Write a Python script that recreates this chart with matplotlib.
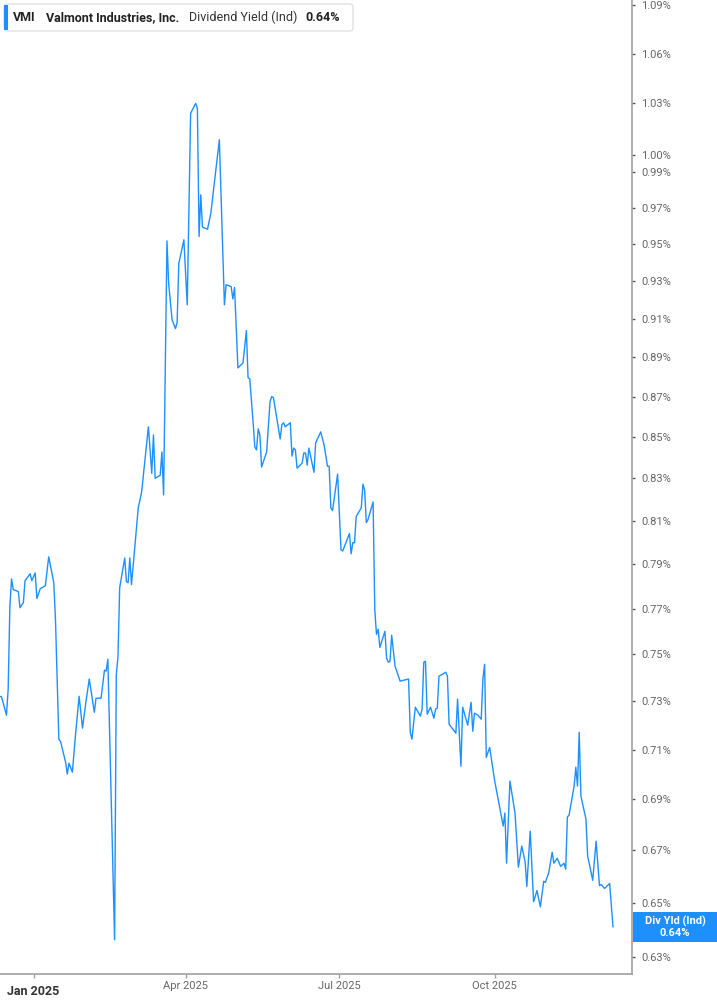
import pandas as pd
import matplotlib.pyplot as plt
import matplotlib.ticker as mticker
from matplotlib.patches import FancyBboxPatch, Rectangle

plt.rcParams['font.family'] = ['Roboto', 'DejaVu Sans']

# dividend yield (ind), percent
dates = [
    '2024-12-12', '2024-12-13', '2024-12-16', '2024-12-17', '2024-12-18', '2024-12-19', '2024-12-20',
    '2024-12-23', '2024-12-24', '2024-12-26', '2024-12-27', '2024-12-30', '2024-12-31',
    '2025-01-02', '2025-01-03', '2025-01-05', '2025-01-08', '2025-01-10', '2025-01-13', '2025-01-14',
    '2025-01-16', '2025-01-17', '2025-01-20', '2025-01-21', '2025-01-22', '2025-01-24', '2025-01-26',
    '2025-01-28', '2025-01-30',
    '2025-02-01', '2025-02-03', '2025-02-06', '2025-02-07', '2025-02-10', '2025-02-12', '2025-02-13',
    '2025-02-14', '2025-02-18', '2025-02-19', '2025-02-20', '2025-02-21', '2025-02-24', '2025-02-25',
    '2025-02-26', '2025-02-27', '2025-02-28',
    '2025-03-04', '2025-03-06', '2025-03-10', '2025-03-12', '2025-03-13', '2025-03-14', '2025-03-17',
    '2025-03-18', '2025-03-19', '2025-03-21', '2025-03-22', '2025-03-24', '2025-03-26', '2025-03-27',
    '2025-03-28', '2025-03-31',
    '2025-04-02', '2025-04-04', '2025-04-07', '2025-04-08', '2025-04-09', '2025-04-10', '2025-04-11',
    '2025-04-14', '2025-04-16', '2025-04-21', '2025-04-24', '2025-04-25', '2025-04-28', '2025-04-29',
    '2025-04-30',
    '2025-05-02', '2025-05-05', '2025-05-07', '2025-05-08', '2025-05-09', '2025-05-11', '2025-05-12',
    '2025-05-13', '2025-05-14', '2025-05-15', '2025-05-16', '2025-05-18', '2025-05-19', '2025-05-21',
    '2025-05-22', '2025-05-23', '2025-05-27', '2025-05-28', '2025-05-29', '2025-05-30',
    '2025-06-02', '2025-06-03', '2025-06-04', '2025-06-05', '2025-06-06', '2025-06-09', '2025-06-10',
    '2025-06-11', '2025-06-12', '2025-06-13', '2025-06-16', '2025-06-17', '2025-06-20', '2025-06-22',
    '2025-06-24', '2025-06-25', '2025-06-26', '2025-06-27', '2025-06-30',
    '2025-07-02', '2025-07-03', '2025-07-07', '2025-07-08', '2025-07-09', '2025-07-10', '2025-07-11',
    '2025-07-14', '2025-07-15', '2025-07-16', '2025-07-17', '2025-07-18', '2025-07-21', '2025-07-22',
    '2025-07-23', '2025-07-24', '2025-07-25', '2025-07-28', '2025-07-29', '2025-07-30', '2025-07-31',
    '2025-08-01', '2025-08-03', '2025-08-06', '2025-08-08', '2025-08-11', '2025-08-12', '2025-08-13',
    '2025-08-15', '2025-08-18', '2025-08-19', '2025-08-20', '2025-08-21', '2025-08-22', '2025-08-24',
    '2025-08-26', '2025-08-27', '2025-08-28', '2025-08-29',
    '2025-09-02', '2025-09-03', '2025-09-04', '2025-09-08', '2025-09-09', '2025-09-11', '2025-09-12',
    '2025-09-15', '2025-09-17', '2025-09-18', '2025-09-19', '2025-09-21', '2025-09-23', '2025-09-24',
    '2025-09-25', '2025-09-26', '2025-09-28',
    '2025-10-01', '2025-10-06', '2025-10-07', '2025-10-08', '2025-10-10', '2025-10-13', '2025-10-15',
    '2025-10-17', '2025-10-19', '2025-10-20', '2025-10-22', '2025-10-24', '2025-10-26', '2025-10-28',
    '2025-10-30', '2025-10-31',
    '2025-11-02', '2025-11-04', '2025-11-05', '2025-11-07', '2025-11-09', '2025-11-11', '2025-11-12',
    '2025-11-13', '2025-11-14', '2025-11-17', '2025-11-18', '2025-11-19', '2025-11-20', '2025-11-21',
    '2025-11-24', '2025-11-25', '2025-11-28', '2025-11-30',
    '2025-12-02', '2025-12-03', '2025-12-05', '2025-12-08', '2025-12-10',
]

yield_pct = [
    0.7320, 0.7320, 0.7242, 0.7351, 0.7709, 0.7833, 0.7785, 0.7776, 0.7704, 0.7727, 0.7825, 0.7856, 0.7825,
    0.7860, 0.7745, 0.7789, 0.7802, 0.7933, 0.7816, 0.7652, 0.7142, 0.7133, 0.7048, 0.7000, 0.7044, 0.7008,
    0.7171, 0.7321, 0.7188,
    0.7296, 0.7394, 0.7254, 0.7313, 0.7313, 0.7432, 0.7428, 0.7479, 0.6363, 0.7411, 0.7491, 0.7793, 0.7928,
    0.7820, 0.7816, 0.7928, 0.7807,
    0.8160, 0.8235, 0.8550, 0.8324, 0.8510, 0.8300, 0.8315, 0.8427, 0.8221, 0.9516, 0.9285, 0.9095, 0.9047,
    0.9079, 0.9392, 0.9522,
    0.9172, 1.0242, 1.0300, 1.0271, 0.9540, 0.9772, 0.9592, 0.9580, 0.9671, 1.0087, 0.9172, 0.9279, 0.9269,
    0.9203, 0.9264,
    0.8845, 0.8870, 0.9037, 0.8795, 0.8790, 0.8570, 0.8451, 0.8437, 0.8540, 0.8510, 0.8354, 0.8402, 0.8427,
    0.8675, 0.8700, 0.8695, 0.8490, 0.8560, 0.8570, 0.8550,
    0.8570, 0.8407, 0.8446, 0.8437, 0.8349, 0.8373, 0.8422, 0.8422, 0.8363, 0.8446, 0.8329, 0.8471, 0.8525,
    0.8461, 0.8358, 0.8358, 0.8160, 0.8147, 0.8320,
    0.7965, 0.7960, 0.8040, 0.7947, 0.7998, 0.7998, 0.8119, 0.8160, 0.8272, 0.8244, 0.8091, 0.8105, 0.8188,
    0.7696, 0.7587, 0.7609, 0.7530, 0.7600, 0.7483, 0.7466, 0.7470,
    0.7583, 0.7449, 0.7385, 0.7389, 0.7394, 0.7171, 0.7142, 0.7275, 0.7238, 0.7267, 0.7466, 0.7470, 0.7246,
    0.7275, 0.7229, 0.7267, 0.7271, 0.7406,
    0.7423, 0.7406, 0.7204, 0.7167, 0.7309, 0.7032, 0.7275, 0.7200, 0.7296, 0.7175, 0.7250, 0.7242, 0.7225,
    0.7394, 0.7457, 0.7068, 0.7108,
    0.6972, 0.6794, 0.6845, 0.6650, 0.6972, 0.6845, 0.6635, 0.6716, 0.6654, 0.6562, 0.6774, 0.6504, 0.6546,
    0.6485, 0.6581, 0.6577,
    0.6615, 0.6692, 0.6650, 0.6669, 0.6638, 0.6650, 0.6627, 0.6829, 0.6837, 0.6952, 0.7028, 0.6952, 0.7171,
    0.6912, 0.6821, 0.6677, 0.6585, 0.6735,
    0.6565, 0.6569, 0.6554, 0.6573, 0.6411,
]

ytick_vals = [0.63, 0.65, 0.67, 0.69, 0.71, 0.73, 0.75, 0.77, 0.79, 0.81, 0.83, 0.85,
              0.87, 0.89, 0.91, 0.93, 0.95, 0.97, 0.99, 1.00, 1.03, 1.06, 1.09]
xtick_dates = ['2025-01-01', '2025-04-01', '2025-07-01', '2025-10-01']
xtick_labels = ['Jan 2025', 'Apr 2025', 'Jul 2025', 'Oct 2025']

ticker_sym = 'VMI'
company = 'Valmont Industries, Inc.'
metric = 'Dividend Yield (Ind)'
short_metric = 'Div Yld (Ind)'

blue = '#1e8fff'
gray_axis = '#a0a0a0'

x = pd.to_datetime(dates)
last = yield_pct[-1]

fig = plt.figure(figsize=(7.17, 10.05), dpi=100)
ax = fig.add_axes([0, 31 / 1005, 632 / 717, 974 / 1005])

ax.plot(x, yield_pct, color=blue, lw=1.0)

ax.set_yscale('log')
ax.set_ylim(0.6239, 1.0932)
ax.set_xlim(pd.Timestamp('2024-12-12 04:00'), pd.Timestamp('2025-12-21 06:00'))

ax.yaxis.tick_right()
ax.yaxis.set_minor_locator(mticker.NullLocator())
ax.set_yticks(ytick_vals)
ax.set_yticklabels([f'{v:.2f}%' for v in ytick_vals])
ax.tick_params(axis='y', which='major', length=2.5, width=1, color='#555555',
               labelcolor='#666666', labelsize=8, pad=4)

ax.set_xticks(pd.to_datetime(xtick_dates))
ax.set_xticklabels([''] + xtick_labels[1:])
ax.tick_params(axis='x', length=3, width=1, color=gray_axis,
               labelcolor='#666666', labelsize=8, pad=2)

# year label is bolder and sits lower
ax.annotate(xtick_labels[0], xy=(pd.Timestamp(xtick_dates[0]), 0),
            xycoords=('data', 'axes fraction'), xytext=(0, -17), textcoords='offset pixels',
            ha='center', va='center', fontsize=9, fontweight='bold', color='#333333')

for side in ['left', 'top']:
    ax.spines[side].set_visible(False)
for side in ['right', 'bottom']:
    ax.spines[side].set_color(gray_axis)
    ax.spines[side].set_linewidth(1.2)

# legend header box
W, H = 717, 1005
box = FancyBboxPatch((4 / W, 1 - 31 / H), 349 / W, 27 / H, boxstyle='round,pad=0,rounding_size=0.004',
                     transform=fig.transFigure, facecolor='white', edgecolor='#e2e2e2', lw=1)
fig.patches.append(box)
fig.patches.append(Rectangle((4 / W, 1 - 30 / H), 3.5 / W, 25 / H, transform=fig.transFigure,
                             facecolor=blue, edgecolor='none'))
ty = 1 - 17.5 / H
fig.text(13 / W, ty, ticker_sym, fontsize=9, fontweight='bold', color='#222222', va='center')
fig.text(46 / W, ty, company, fontsize=9, fontweight='bold', color='#222222', va='center')
fig.text(189 / W, ty, metric, fontsize=9, color='#333333', va='center')
fig.text(305 / W, ty, f'{last:.2f}%', fontsize=9, fontweight='bold', color='#222222', va='center')

# last value tag on the right axis
fig.patches.append(Rectangle((633 / W, 1 - 942 / H), 84 / W, 30 / H, transform=fig.transFigure,
                             facecolor=blue, edgecolor='none'))
fig.text(675 / W, 1 - 921 / H, short_metric, fontsize=8, fontweight='bold', color='white',
         ha='center', va='center')
fig.text(675 / W, 1 - 933 / H, f'{last:.2f}%', fontsize=8, fontweight='bold', color='white',
         ha='center', va='center')

fig.savefig('out.png', dpi=100)
